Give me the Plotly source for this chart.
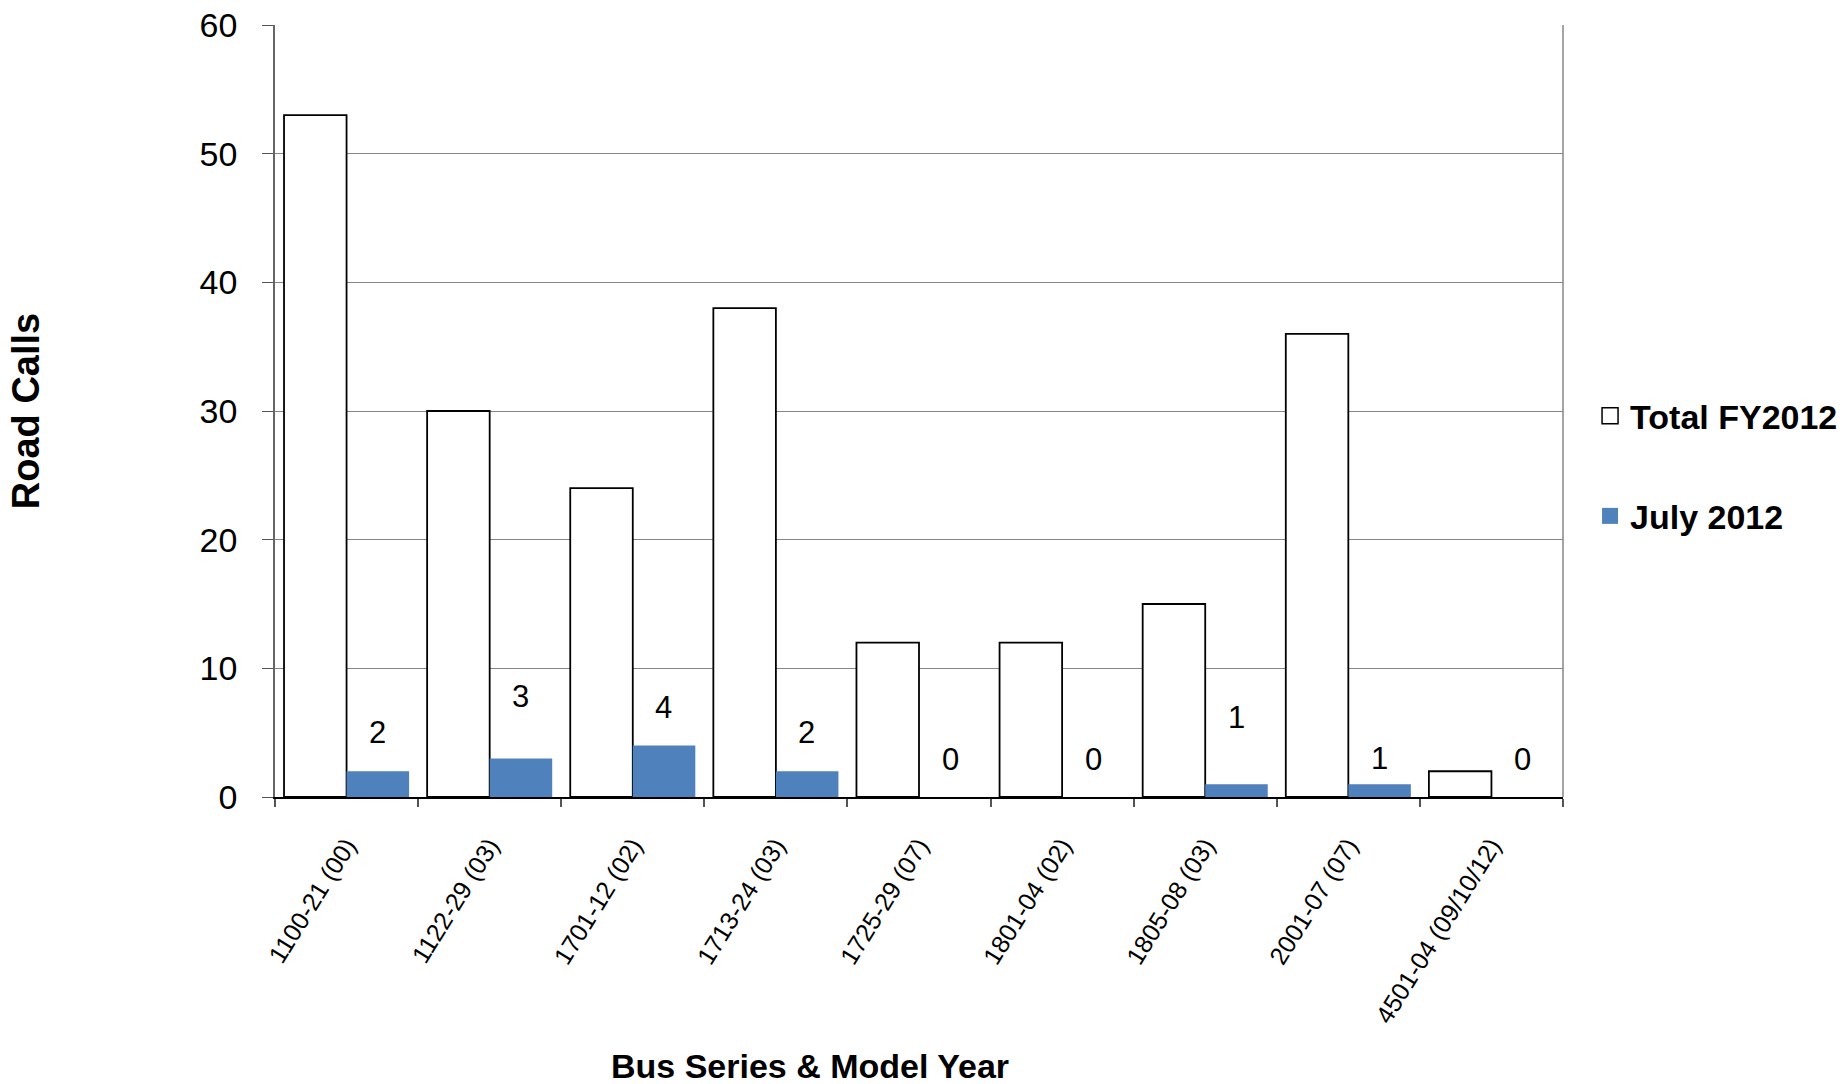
import plotly.graph_objects as go

categories = ["1100-21 (00)", "1122-29 (03)", "1701-12 (02)", "1713-24 (03)", "1725-29 (07)",
              "1801-04 (02)", "1805-08 (03)", "2001-07 (07)", "4501-04 (09/10/12)"]
total_fy2012 = [53, 30, 24, 38, 12, 12, 15, 36, 2]
july_2012 = [2, 3, 4, 2, 0, 0, 1, 1, 0]
# vertical position (data units) of the July value labels, as placed in the original
label_y = [5.0, 7.8, 6.95, 5.05, 2.95, 2.95, 6.15, 3.0, 2.95]

FONT = "Liberation Sans, Arial, sans-serif"
BLUE = "#4F81BD"

fig = go.Figure()
fig.add_trace(go.Bar(x=categories, y=total_fy2012, name="Total FY2012",
                     marker=dict(color="white", line=dict(color="black", width=1.8)),
                     showlegend=False))
fig.add_trace(go.Bar(x=categories, y=july_2012, name="July 2012",
                     marker=dict(color=BLUE, line=dict(color=BLUE, width=0)),
                     showlegend=False))
# legend entries
fig.add_trace(go.Scatter(x=[None], y=[None], mode="markers", name="Total FY2012",
                         marker=dict(symbol="square", size=16, color="white",
                                     line=dict(color="black", width=1.5)),
                         legendgroup="a"))
fig.add_trace(go.Scatter(x=[None], y=[None], mode="markers", name="July 2012",
                         marker=dict(symbol="square", size=16, color=BLUE,
                                     line=dict(color=BLUE, width=0)),
                         legendgroup="b"))

for cat, val, ly in zip(categories, july_2012, label_y):
    fig.add_annotation(x=cat, y=ly, xref="x", yref="y", text=str(val), showarrow=False,
                       xshift=31, font=dict(family=FONT, size=31, color="black"),
                       yanchor="middle")

fig.add_annotation(x=0.415, y=-0.348, xref="paper", yref="paper",
                   text="<b>Bus Series & Model Year</b>", showarrow=False,
                   font=dict(family=FONT, size=34, color="black"), yanchor="middle")

fig.update_layout(
    width=1843, height=1084,
    margin=dict(l=275, r=280, t=25, b=287, autoexpand=False),
    paper_bgcolor="white", plot_bgcolor="white",
    barmode="group", bargap=0.126, bargroupgap=0,
    font=dict(family=FONT, color="black"),
    legend=dict(x=1.021, y=0.531, xanchor="left", yanchor="top",
                font=dict(family=FONT, size=34, color="black", weight="bold"),
                tracegroupgap=53, bgcolor="rgba(0,0,0,0)", itemsizing="trace"),
    xaxis=dict(type="category", tickson="boundaries", ticks="outside", ticklen=8,
               tickcolor="#555555", tickwidth=1.5, showline=True, linecolor="black",
               linewidth=2, showgrid=False, tickangle=-58,
               tickfont=dict(family=FONT, size=25, color="black"),
               ticklabelstandoff=22, mirror=False),
    yaxis=dict(range=[0, 60], dtick=10, ticks="outside", ticklen=11, tickcolor="#555555",
               showline=True, linecolor="#666666", linewidth=1.5,
               showgrid=True, gridcolor="#868686", gridwidth=1.2,
               tickfont=dict(family=FONT, size=34, color="black"),
               ticklabelstandoff=18, zeroline=False,
               title=dict(text="<b>Road Calls</b>", font=dict(family=FONT, size=38, color="black"),
                          standoff=148)),
)
# right border of plot area
fig.add_shape(type="line", xref="paper", yref="paper", x0=1, x1=1, y0=0, y1=1,
              line=dict(color="#868686", width=1.5))

fig.write_html("out.html")
